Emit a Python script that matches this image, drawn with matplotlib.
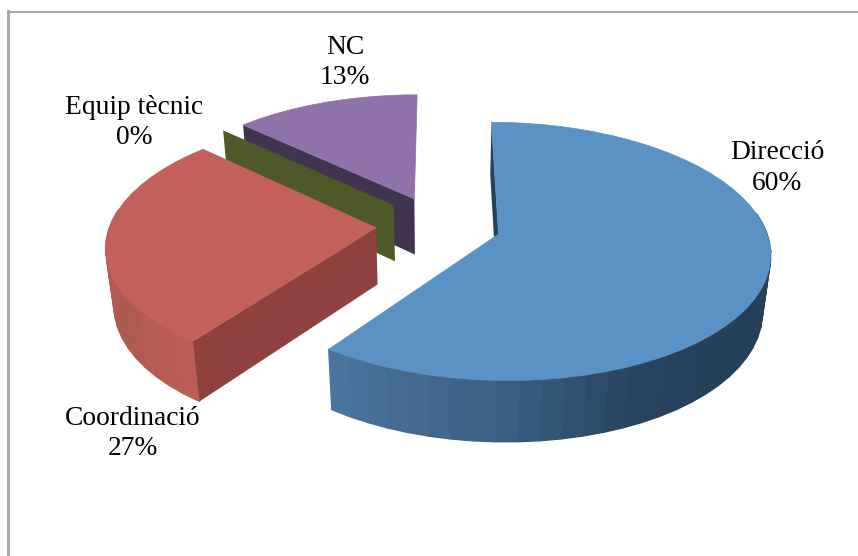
import numpy as np
import matplotlib
matplotlib.use("Agg")
import matplotlib.pyplot as plt
from matplotlib.patches import Polygon

plt.rcParams['font.family'] = ['Liberation Serif', 'DejaVu Serif']

# chart data
labels = ["Direcció", "Coordinació", "Equip tècnic", "NC"]
values = [60, 27, 0, 13]
top_colors = ["#5B92C6", "#C4605B", "#4F5828", "#8E72A9"]
cut_colors = ["#264058", "#8E413F", "#4F5828", "#42344E"]
# wall shading, (fraction along the slice, colour)
wall_stops = [
    [(0.0, "#26405A"), (0.62, "#26405A"), (0.72, "#2A4560"), (0.76, "#2F5070"),
     (0.83, "#3A6083"), (0.93, "#466C94"), (1.0, "#4C77A5")],
    [(0.0, "#BC5C58"), (0.25, "#AC5A50"), (0.5, "#B25A55"), (1.0, "#BC5F5A")],
    [(0.0, "#4F5828"), (1.0, "#4F5828")],
    [(0.0, "#42344E"), (1.0, "#42344E")],
]
label_pos = [(777, 168), (133, 433.5), (134, 122.5), (345, 62.5)]

# projection of the pie plane onto the picture
X0, Y0 = 438.5, 225
F, G = 266, 124.4
K = 0.1326  # perspective along the depth
M = 0.025   # perspective going down
H = 58      # thickness of the pie
EXPLODE = 0.235


def project(x, z, bottom=False):
    w = 1 + K * z + (M if bottom else 0)
    return X0 + F * x / w, Y0 + (-G * z + (H if bottom else 0)) / w


def mix(stops, t):
    pos = [s[0] for s in stops]
    rgb = np.array([matplotlib.colors.to_rgb(s[1]) for s in stops])
    return tuple(np.interp(t, pos, rgb[:, i]) for i in range(3))


fig = plt.figure(figsize=(8.58, 5.56), dpi=100)
ax = fig.add_axes([0, 0, 1, 1])
ax.set_xlim(0, 858)
ax.set_ylim(556, 0)
ax.axis("off")

# frame of the chart area
ax.plot([7.5, 858], [11.5, 11.5], color="#A0A0A0", lw=1.3)
ax.plot([7.5, 7.5], [11, 556], color="#A6A6A6", lw=2)

shares = np.array(values, dtype=float) / sum(values)
starts = np.concatenate([[0], np.cumsum(shares)[:-1]]) * 2 * np.pi
ends = starts + shares * 2 * np.pi

# back slices first
for i in [3, 2, 1, 0]:
    a0, a1 = starts[i], ends[i]
    mid = (a0 + a1) / 2
    ox, oz = EXPLODE * np.sin(mid), EXPLODE * np.cos(mid)
    ang = np.linspace(a0, a1, max(int((a1 - a0) * 14), 2))
    rx, rz = ox + np.sin(ang), oz + np.cos(ang)
    z = 10 + (3 - i) * 10

    # outer wall in strips, only the front part can be seen
    for j in range(len(ang) - 1):
        if np.cos(ang[j]) > 0.1 and np.cos(ang[j + 1]) > 0.1:
            continue
        quad = [project(rx[j], rz[j]), project(rx[j + 1], rz[j + 1]),
                project(rx[j + 1], rz[j + 1], True), project(rx[j], rz[j], True)]
        c = mix(wall_stops[i], j / (len(ang) - 1))
        ax.add_patch(Polygon(quad, closed=True, fc=c, ec=c, lw=1.0, zorder=z))

    # cut face at the start of the slice, the other one never shows
    ex, ez = ox + np.sin(a0), oz + np.cos(a0)
    face = [project(ox, oz), project(ex, ez), project(ex, ez, True), project(ox, oz, True)]
    ax.add_patch(Polygon(face, closed=True, fc=cut_colors[i], ec="none", zorder=z + 1))

    # top surface
    if values[i] > 0:
        pts = [project(ox, oz)] + [project(x, y) for x, y in zip(rx, rz)]
        ax.add_patch(Polygon(pts, closed=True, fc=top_colors[i], ec=top_colors[i], lw=0.5, zorder=z + 2))

for name, val, (tx, ty) in zip(labels, values, label_pos):
    ax.text(tx, ty, f"{name}\n{val}%", ha="center", va="center", fontsize=19.8,
            linespacing=1.3, color="black", zorder=100)

fig.savefig("out.png", dpi=100)
